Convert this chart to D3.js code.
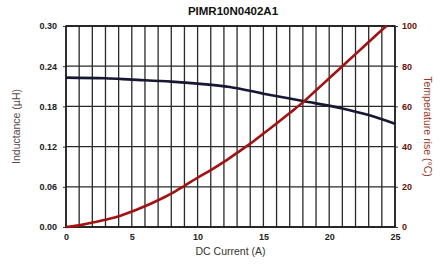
<!DOCTYPE html>
<html>
<head>
<meta charset="utf-8">
<script src="https://cdn.jsdelivr.net/npm/d3@7"></script>
<style>
  body { margin: 0; background: #fff; }
  svg { display: block; font-family: "Liberation Sans", Arial, sans-serif; }
  .tick text { font-weight: bold; font-size: 9px; }
</style>
</head>
<body>
<svg width="440" height="269"></svg>
<script>
// chart data
const currentA = [0, 3, 5, 8, 10, 12.45, 15, 18, 21, 23, 25];
const inductance = [0.223, 0.222, 0.220, 0.217, 0.214, 0.209, 0.199, 0.188, 0.177, 0.167, 0.154];

const tempCurrent = [0, 1, 2, 3, 4, 5, 6, 7, 8, 9, 10, 11, 12, 13, 14, 15, 16, 17, 18, 19, 20, 21, 22, 23, 24, 24.35];
const tempRise = [0, 0.8, 2.2, 3.6, 5.3, 7.7, 10.3, 13.3, 16.6, 20.5, 24.5, 28.3, 32.4, 36.9, 41.5, 46.5, 51.5, 56.7, 62, 68, 74, 80, 86, 92, 98, 100];

const xTicks = [0, 5, 10, 15, 20, 25];
const leftTicks = [0, 0.06, 0.12, 0.18, 0.24, 0.30];
const rightTicks = [0, 20, 40, 60, 80, 100];

const svg = d3.select('svg');
const margin = { t: 26, r: 45, b: 42, l: 66 };
const width = 440 - margin.l - margin.r;
const height = 269 - margin.t - margin.b;

const g = svg.append('g').attr('transform', `translate(${margin.l},${margin.t})`);

const x = d3.scaleLinear().domain([0, 25]).range([0, width]);
const yL = d3.scaleLinear().domain([0, 0.30]).range([height, 0]);
const yR = d3.scaleLinear().domain([0, 100]).range([height, 0]);

// grid: every 1 A vertically, every 0.06 horizontally
g.append('g')
  .selectAll('line')
  .data(d3.range(0, 26))
  .join('line')
  .attr('x1', d => x(d)).attr('x2', d => x(d))
  .attr('y1', 0).attr('y2', height)
  .attr('stroke', '#2a2a2a').attr('stroke-width', 1.3);

g.append('g')
  .selectAll('line')
  .data(leftTicks)
  .join('line')
  .attr('x1', 0).attr('x2', width)
  .attr('y1', d => yL(d)).attr('y2', d => yL(d))
  .attr('stroke', '#2a2a2a').attr('stroke-width', 1.3);

g.append('rect')
  .attr('width', width).attr('height', height)
  .attr('fill', 'none').attr('stroke', '#111').attr('stroke-width', 1.4);

// axes
const xAxis = g.append('g')
  .attr('transform', `translate(0,${height})`)
  .call(d3.axisBottom(x).tickValues(xTicks).tickSize(0).tickPadding(7));
xAxis.select('.domain').remove();
xAxis.selectAll('text').attr('fill', '#222');

const lAxis = g.append('g')
  .call(d3.axisLeft(yL).tickValues(leftTicks).tickFormat(d3.format('.2f')).tickSize(3).tickPadding(6));
lAxis.select('.domain').remove();
lAxis.selectAll('text').attr('fill', '#222');
lAxis.selectAll('line').attr('stroke', '#333');

const rAxis = g.append('g')
  .attr('transform', `translate(${width},0)`)
  .call(d3.axisRight(yR).tickValues(rightTicks).tickSize(3).tickPadding(4));
rAxis.select('.domain').remove();
rAxis.selectAll('text').attr('fill', '#6a1208');
rAxis.selectAll('line').attr('stroke', '#333');

// curves
const lLine = d3.line()
  .x((d, i) => x(currentA[i]))
  .y(d => yL(d))
  .curve(d3.curveMonotoneX);

const tLine = d3.line()
  .x((d, i) => x(tempCurrent[i]))
  .y(d => yR(d))
  .curve(d3.curveMonotoneX);

g.append('path')
  .datum(inductance)
  .attr('d', lLine)
  .attr('fill', 'none')
  .attr('stroke', '#161833')
  .attr('stroke-width', 2.6);

g.append('path')
  .datum(tempRise)
  .attr('d', tLine)
  .attr('fill', 'none')
  .attr('stroke', '#a31212')
  .attr('stroke-width', 2.6);

// titles
svg.append('text')
  .attr('x', 233).attr('y', 15)
  .attr('text-anchor', 'middle')
  .attr('font-weight', 'bold')
  .attr('font-size', 11.5)
  .attr('fill', '#111')
  .text('PIMR10N0402A1');

svg.append('text')
  .attr('x', margin.l + width / 2).attr('y', 255)
  .attr('text-anchor', 'middle')
  .attr('font-size', 10.5)
  .attr('fill', '#333')
  .text('DC Current (A)');

svg.append('text')
  .attr('transform', `translate(20,${margin.t + height / 2}) rotate(-90)`)
  .attr('text-anchor', 'middle')
  .attr('font-size', 10.5)
  .attr('fill', '#5a4848')
  .text('Inductance (µH)');

svg.append('text')
  .attr('transform', `translate(424,${margin.t + height / 2}) rotate(90)`)
  .attr('text-anchor', 'middle')
  .attr('font-size', 10.5)
  .attr('fill', '#9a3a2c')
  .text('Temperature rise (°C)');
</script>
</body>
</html>
